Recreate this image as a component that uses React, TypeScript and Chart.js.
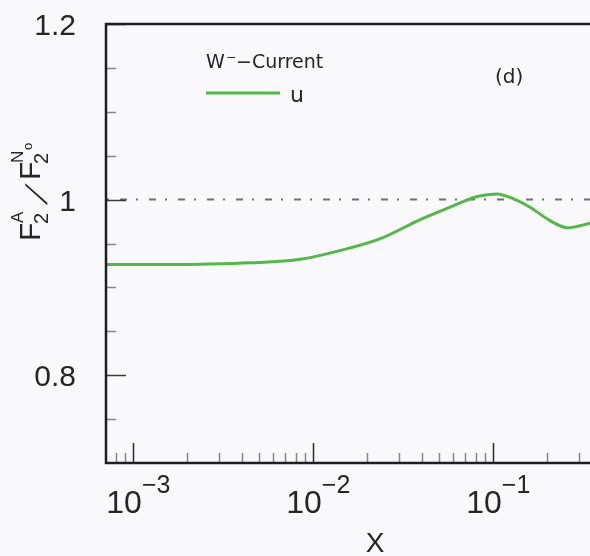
import React, { useEffect, useRef } from 'react';
import { Chart, registerables } from 'chart.js';

Chart.register(...registerables);

// ---- data ----
const X_VALUES = [7.05e-4, 1.41e-3, 2.35e-3, 4.47e-3, 8.47e-3, 0.0141, 0.0236, 0.0393, 0.0577, 0.0815, 0.105, 0.129, 0.161, 0.207, 0.258, 0.345];
const U_VALUES = [0.926, 0.926, 0.9265, 0.928, 0.932, 0.942, 0.9555, 0.9773, 0.9915, 1.0035, 1.0065, 1.001, 0.991, 0.976, 0.968, 0.973];

const Y_MAJOR_TICKS = [0.8, 1, 1.2];
const Y_MAJOR_LABELS = ['0.8', '1', '1.2'];
const Y_MINOR_TICKS = [0.75, 0.85, 0.9, 0.95, 1.05, 1.1, 1.15];
const X_DECADE_EXPONENTS = [-3, -2, -1];
const X_DECADE_LABEL_BASE = '10';
const X_DECADE_LABEL_EXP = ['\u22123', '\u22122', '\u22121'];
const X_MIN = 7.05e-4;
const X_MAX = 0.345;
const Y_MIN = 0.7;
const Y_MAX = 1.2;
const REFERENCE_LEVEL = 1;

const SERIES_LABEL = 'u';
const LEGEND_TITLE_MAIN = 'W';
const LEGEND_TITLE_SUP = '\u2212';
const LEGEND_TITLE_REST = '\u2212Current';
const PANEL_LABEL = '(d)';
const X_TITLE = 'X';

const BG = '#f9f9fb';
const GREEN = '#52b848';
const DARK = '#1f1f1f';
const GREY = '#858585';
const TEXT = '#262626';
const NUM_FONT = '"Liberation Sans", Arial, sans-serif';
const SMALL_FONT = '"DejaVu Sans", sans-serif';

const customPlugin = {
  id: 'customAxes',
  beforeDraw(chart: any) {
    const ctx = chart.ctx;
    ctx.save();
    ctx.fillStyle = BG;
    ctx.fillRect(0, 0, chart.width, chart.height);
    ctx.restore();
  },
  beforeDatasetsDraw(chart: any) {
    const ctx = chart.ctx;
    const { left, right } = chart.chartArea;
    const y = chart.scales.y.getPixelForValue(REFERENCE_LEVEL);
    ctx.save();
    ctx.strokeStyle = '#6f6f6f';
    ctx.lineWidth = 2;
    ctx.setLineDash([7, 9, 2, 11]);
    ctx.lineDashOffset = -14;
    ctx.beginPath();
    ctx.moveTo(left, y);
    ctx.lineTo(right, y);
    ctx.stroke();
    ctx.restore();
  },
  afterDatasetsDraw(chart: any) {
    const ctx = chart.ctx;
    const { left, right, top, bottom } = chart.chartArea;
    const xs = chart.scales.x;
    const ys = chart.scales.y;
    ctx.save();

    // y minor ticks
    ctx.lineWidth = 1.5;
    ctx.strokeStyle = GREY;
    for (const v of Y_MINOR_TICKS) {
      const py = Math.round(ys.getPixelForValue(v)) + 0.5;
      ctx.beginPath();
      ctx.moveTo(left, py);
      ctx.lineTo(left + 10, py);
      ctx.stroke();
    }
    // y major ticks
    ctx.strokeStyle = '#3a3a3a';
    for (const v of Y_MAJOR_TICKS) {
      const py = Math.round(ys.getPixelForValue(v)) + 0.5;
      ctx.beginPath();
      ctx.moveTo(left, py);
      ctx.lineTo(left + 20, py);
      ctx.stroke();
    }
    // x ticks
    for (let d = -4; d <= 0; d++) {
      for (let k = 1; k <= 9; k++) {
        const v = k * Math.pow(10, d);
        if (v < X_MIN || v > X_MAX) continue;
        const px = Math.round(xs.getPixelForValue(v)) + 0.5;
        ctx.strokeStyle = k === 1 ? '#2a2a2a' : GREY;
        ctx.beginPath();
        ctx.moveTo(px, bottom);
        ctx.lineTo(px, bottom - (k === 1 ? 20 : 10));
        ctx.stroke();
      }
    }

    // axes frame
    ctx.strokeStyle = DARK;
    ctx.lineWidth = 2.5;
    ctx.beginPath();
    ctx.moveTo(right + 2, top);
    ctx.lineTo(left, top);
    ctx.lineTo(left, bottom);
    ctx.lineTo(right + 2, bottom);
    ctx.stroke();

    // y tick labels
    ctx.fillStyle = TEXT;
    ctx.font = `30px ${NUM_FONT}`;
    ctx.textAlign = 'right';
    ctx.textBaseline = 'alphabetic';
    Y_MAJOR_TICKS.forEach((v, i) => {
      const py = ys.getPixelForValue(v);
      ctx.fillText(Y_MAJOR_LABELS[i], 76, py + 11);
    });

    // x tick labels 10^n
    ctx.textAlign = 'left';
    X_DECADE_EXPONENTS.forEach((e, i) => {
      const px = xs.getPixelForValue(Math.pow(10, e));
      ctx.font = `32px ${NUM_FONT}`;
      const x0 = px - 27;
      ctx.fillText(X_DECADE_LABEL_BASE, x0, 513);
      const w = ctx.measureText(X_DECADE_LABEL_BASE).width;
      ctx.font = `25px ${NUM_FONT}`;
      ctx.fillText(X_DECADE_LABEL_EXP[i], x0 + w, 493);
    });

    // x title
    ctx.font = `28px ${NUM_FONT}`;
    ctx.textAlign = 'center';
    ctx.fillText(X_TITLE, 375, 552);

    // y title: F2^A / F2^No rotated
    ctx.save();
    ctx.translate(40, 241);
    ctx.rotate(-Math.PI / 2);
    ctx.textAlign = 'left';
    ctx.font = `30px ${NUM_FONT}`;
    ctx.fillText('F', 0, 0);
    ctx.font = `20px ${NUM_FONT}`;
    ctx.fillText('2', 17, 8);
    ctx.font = `17px ${NUM_FONT}`;
    ctx.fillText('A', 18, -17);
    ctx.save();
    ctx.translate(36, 7);
    ctx.transform(1, 0, -0.62, 1, 0, 0);
    ctx.font = `30px ${NUM_FONT}`;
    ctx.fillText('/', 0, 0);
    ctx.restore();
    ctx.font = `30px ${NUM_FONT}`;
    ctx.fillText('F', 61, 0);
    ctx.font = `20px ${NUM_FONT}`;
    ctx.fillText('2', 77, 8);
    ctx.font = `17px ${NUM_FONT}`;
    ctx.fillText('N', 78, -17);
    ctx.font = `13px ${NUM_FONT}`;
    ctx.fillText('o', 91, -8);
    ctx.restore();

    // legend
    ctx.textAlign = 'left';
    ctx.font = `19px ${SMALL_FONT}`;
    ctx.fillText(LEGEND_TITLE_MAIN, 206, 68);
    ctx.font = `12px ${SMALL_FONT}`;
    ctx.fillText(LEGEND_TITLE_SUP, 226, 61);
    ctx.font = `19px ${SMALL_FONT}`;
    ctx.fillText(LEGEND_TITLE_REST, 236, 68);
    const ds = chart.data.datasets[0];
    ctx.strokeStyle = ds.borderColor;
    ctx.lineWidth = ds.borderWidth;
    ctx.beginPath();
    ctx.moveTo(206, 93);
    ctx.lineTo(280, 93);
    ctx.stroke();
    ctx.font = `22px ${SMALL_FONT}`;
    ctx.fillText(SERIES_LABEL, 290, 102);

    // panel label
    ctx.font = `20px ${SMALL_FONT}`;
    ctx.fillText(PANEL_LABEL, 495, 83);

    ctx.restore();
  },
};

export default function App() {
  const canvasRef = useRef<HTMLCanvasElement | null>(null);

  useEffect(() => {
    const canvas = canvasRef.current;
    if (!canvas) return;
    const chart = new Chart(canvas, {
      type: 'line',
      data: {
        datasets: [
          {
            label: SERIES_LABEL,
            data: X_VALUES.map((x, i) => ({ x, y: U_VALUES[i] })),
            borderColor: GREEN,
            borderWidth: 3,
            pointRadius: 0,
            fill: false,
            cubicInterpolationMode: 'monotone',
          },
        ],
      },
      options: {
        animation: false,
        responsive: false,
        devicePixelRatio: 1,
        layout: { padding: { left: 106, top: 24, right: 0, bottom: 93 } },
        plugins: { legend: { display: false }, tooltip: { enabled: false } },
        scales: {
          x: { type: 'logarithmic', min: X_MIN, max: X_MAX, display: false },
          y: { type: 'linear', min: Y_MIN, max: Y_MAX, display: false },
        },
      },
      plugins: [customPlugin],
    } as any);
    return () => chart.destroy();
  }, []);

  return (
    <div style={{ position: 'absolute', left: 0, top: 0, width: 590, height: 556, background: BG, overflow: 'hidden' }}>
      <canvas ref={canvasRef} width={590} height={556} style={{ display: 'block' }} />
    </div>
  );
}
